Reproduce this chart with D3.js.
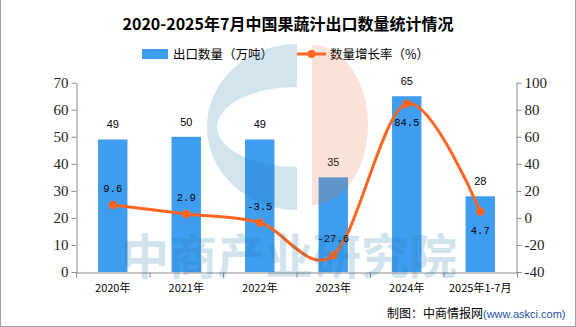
<!DOCTYPE html>
<html><head><meta charset="utf-8">
<script src="https://cdn.jsdelivr.net/npm/d3@7/dist/d3.min.js"></script>
<style>
html,body{margin:0;padding:0;background:#fff;}
svg{display:block;}
</style></head>
<body>
<svg id="chart" width="576" height="327"></svg>
<script>
const title = "2020-2025年7月中国果蔬汁出口数量统计情况";
const categories = ["2020年","2021年","2022年","2023年","2024年","2025年1-7月"];
const exportQty = [49, 50, 49, 35, 65, 28];
const growthRate = [9.6, 2.9, -3.5, -27.6, 84.5, 4.7];
const leftTicks = [0,10,20,30,40,50,60,70];
const rightTicks = [-40,-20,0,20,40,60,80,100];
const legendLabels = ["出口数量（万吨）","数量增长率（%）"];

const barColor = "#3f9def", lineColor = "#ff6420", axisColor = "#8c8c8c";
const cjk = "'Noto Sans CJK SC','Noto Sans',sans-serif";

const svg = d3.select("#chart");
const L = 76, R = 517, T = 82.7, B = 272;

// frame
svg.append("path").attr("d","M0.5,0 V326.5 H575.5 V0").attr("fill","none").attr("stroke","#a0a0a0");

// title
svg.append("text").attr("x",288).attr("y",29.5).attr("text-anchor","middle")
  .attr("font-family",cjk).attr("font-weight","bold").attr("font-size",16).attr("fill","#000").text(title);

// legend
svg.append("rect").attr("x",142).attr("y",49).attr("width",26).attr("height",10).attr("fill",barColor);
svg.append("text").attr("x",173).attr("y",58.5).attr("font-family",cjk).attr("font-size",12.5).attr("fill","#000").text(legendLabels[0]);
svg.append("line").attr("x1",297).attr("x2",326).attr("y1",54).attr("y2",54).attr("stroke",lineColor).attr("stroke-width",3);
svg.append("circle").attr("cx",311.5).attr("cy",54).attr("r",4).attr("fill",lineColor);
svg.append("text").attr("x",330).attr("y",58.5).attr("font-family",cjk).attr("font-size",12.5).attr("fill","#000").text(legendLabels[1]);

// scales
const x = d3.scaleBand().domain(categories).range([L,R]).paddingInner(0.6).paddingOuter(0.3);
const xEdge = d3.scaleLinear().domain([0,categories.length]).range([L,R]);
const yL = d3.scaleLinear().domain([0,70]).range([B,T]);
const yR = d3.scaleLinear().domain([-40,100]).range([B,T]);
const cx = c => x(c) + x.bandwidth()/2;

// bars
svg.append("g").selectAll("rect").data(categories).join("rect")
  .attr("x",d=>x(d)).attr("width",x.bandwidth())
  .attr("y",(d,i)=>yL(exportQty[i])).attr("height",(d,i)=>yL(0)-yL(exportQty[i]))
  .attr("fill",barColor);

// axes
function styleAxis(g){
  g.select(".domain").attr("stroke",axisColor);
  g.selectAll(".tick line").attr("stroke",axisColor);
  g.selectAll(".tick text").attr("fill","#222").attr("font-family","'Liberation Serif',serif").attr("font-size",15);
}
svg.append("g").attr("transform",`translate(${L+0.5},0)`)
  .call(d3.axisLeft(yL).tickValues(leftTicks).tickFormat(d=>String(d)).tickSize(5).tickPadding(3).tickSizeOuter(0))
  .call(styleAxis);
svg.append("g").attr("transform",`translate(${R-0.5},0)`)
  .call(d3.axisRight(yR).tickValues(rightTicks).tickFormat(d=>String(d)).tickSize(5).tickPadding(3).tickSizeOuter(0))
  .call(styleAxis);
svg.append("g").attr("transform",`translate(0,${B+0.5})`)
  .call(d3.axisBottom(xEdge).tickValues(d3.range(categories.length+1)).tickFormat("").tickSize(5).tickSizeOuter(0))
  .call(styleAxis);
svg.append("g").selectAll("text").data(categories).join("text")
  .attr("x",d=>cx(d)).attr("y",292).attr("text-anchor","middle")
  .attr("font-family",cjk).attr("font-size",11).attr("fill","#000").text(d=>d);

// bar labels
svg.append("g").selectAll("text").data(categories).join("text")
  .attr("x",d=>cx(d)).attr("y",(d,i)=>yL(exportQty[i])-11).attr("text-anchor","middle")
  .attr("font-family","'Liberation Sans',sans-serif").attr("font-size",11).attr("fill","#000")
  .text((d,i)=>exportQty[i]);

// line
const pts = categories.map((c,i)=>[cx(c), yR(growthRate[i])]);
svg.append("path").attr("d", d3.line().curve(d3.curveCardinal.tension(0))(pts))
  .attr("fill","none").attr("stroke",lineColor).attr("stroke-width",3);
svg.append("g").selectAll("circle").data(pts).join("circle")
  .attr("cx",d=>d[0]).attr("cy",d=>d[1]).attr("r",4.2).attr("fill",lineColor);

// line labels
const below = [false,false,false,false,true,true];
svg.append("g").selectAll("text").data(categories).join("text")
  .attr("x",d=>cx(d)).attr("y",(d,i)=>yR(growthRate[i]) + (below[i]?22:-13))
  .attr("text-anchor","middle").attr("font-family","'Liberation Mono',monospace").attr("font-size",10.5).attr("fill","#000")
  .text((d,i)=>growthRate[i]);

// watermark
const wm = svg.append("g").attr("pointer-events","none");
const blueWm = "rgb(30,120,170)", orangeWm = "rgb(235,110,60)";
// blue "C"
const cxw = 297, cyw = 127;
const cPath = d3.path();
cPath.moveTo(cxw, cyw-83);
cPath.ellipse ? null : null;
const cD = `M${cxw},${cyw-83} A90,83 0 0,0 ${cxw},${cyw+83} L${cxw},${cyw+40} A80,40 0 0,1 ${cxw},${cyw-40} Z`;
wm.append("path").attr("d",cD).attr("fill",blueWm).attr("opacity",0.2);
// orange half
const oD = `M312,45 A56,80 0 0,1 312,205 Z`;
wm.append("path").attr("d",oD).attr("fill",orangeWm).attr("opacity",0.2);
wm.append("rect").attr("x",312).attr("y",91).attr("width",60).attr("height",11).attr("fill","#fff").attr("opacity",0);
wm.append("text").attr("x",121).attr("y",274).attr("font-family",cjk).attr("font-weight","bold").attr("font-size",48)
  .attr("fill",blueWm).attr("opacity",0.2).text("中商产业研究院");

// footer
const ft = svg.append("text").attr("x",387).attr("y",317.5).attr("font-family",cjk).attr("font-size",12).attr("fill","#000");
ft.append("tspan").text("制图：中商情报网");
ft.append("tspan").attr("font-family","'Liberation Sans',sans-serif").attr("font-size",11).attr("fill","#1f4f9e").text("(www.askci.com)");
</script>
</body></html>
